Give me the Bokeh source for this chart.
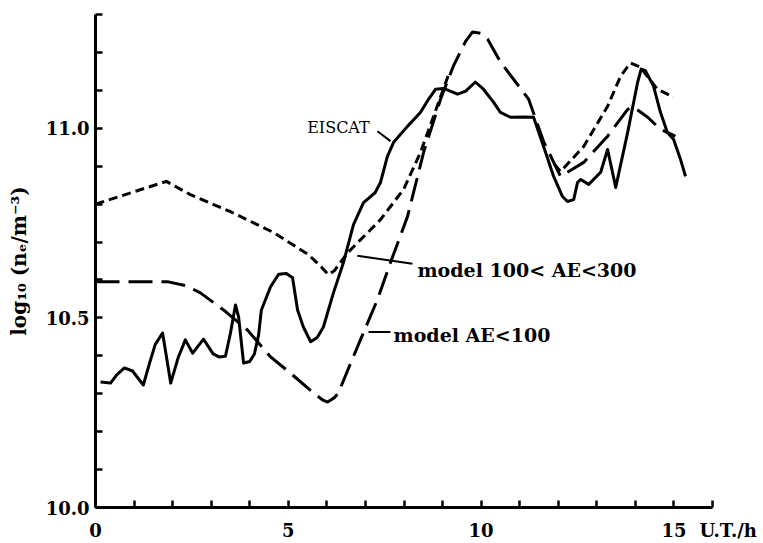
import numpy as np
from bokeh.plotting import figure
from bokeh.models import FixedTicker, PrintfTickFormatter, Label, Range1d
from bokeh.embed import file_html
from bokeh.resources import INLINE

# EISCAT measured electron density, log10(n_e / m^-3), against universal time (h)
eiscat_ut = [0.13, 0.39, 0.55, 0.75, 0.96, 1.24, 1.40, 1.55, 1.74, 1.95, 2.15, 2.33,
             2.52, 2.80, 3.05, 3.20, 3.37, 3.50, 3.63, 3.71, 3.84, 4.00, 4.12, 4.23,
             4.30, 4.54, 4.75, 4.95, 5.11, 5.24, 5.39, 5.58, 5.75, 5.91, 6.17, 6.43,
             6.69, 6.95, 7.25, 7.39, 7.57, 7.73, 8.09, 8.43, 8.64, 8.82, 9.02, 9.20,
             9.39, 9.60, 9.85, 10.06, 10.32, 10.50, 10.76, 11.10, 11.36, 11.62, 11.88,
             12.11, 12.24, 12.40, 12.50, 12.58, 12.79, 13.10, 13.28, 13.49, 13.80,
             14.06, 14.15, 14.26, 14.47, 14.65, 14.83, 14.99, 15.17, 15.30]
eiscat_ne = [10.331, 10.328, 10.350, 10.368, 10.360, 10.323, 10.380, 10.430, 10.460,
             10.328, 10.397, 10.442, 10.407, 10.444, 10.405, 10.397, 10.399, 10.460,
             10.534, 10.503, 10.381, 10.385, 10.405, 10.455, 10.520, 10.582, 10.615,
             10.617, 10.606, 10.521, 10.476, 10.437, 10.448, 10.476, 10.566, 10.646,
             10.746, 10.804, 10.830, 10.857, 10.926, 10.963, 11.005, 11.042, 11.077,
             11.103, 11.105, 11.098, 11.090, 11.098, 11.122, 11.103, 11.069, 11.042,
             11.029, 11.030, 11.029, 10.952, 10.873, 10.820, 10.807, 10.812, 10.857,
             10.865, 10.852, 10.884, 10.944, 10.844, 10.989, 11.122, 11.156, 11.152,
             11.111, 11.042, 10.989, 10.971, 10.918, 10.873]

# Model, 100 < AE < 300 (runs under the AE < 100 model around noon)
model_mid_ut = [0.0, 1.84, 2.10, 2.46, 3.50, 4.62, 5.52, 5.85, 6.04, 6.20, 6.54, 7.39,
                7.99, 8.43, 8.74, 9.02, 9.15, np.nan, 11.90, 12.06, 12.66, 13.28, 13.62,
                13.87, 14.13, 14.57, 14.99]
model_mid_ne = [10.800, 10.860, 10.845, 10.825, 10.780, 10.725, 10.667, 10.635, 10.614,
                10.625, 10.672, 10.759, 10.839, 10.937, 11.024, 11.103, 11.140, np.nan,
                10.905, 10.886, 10.952, 11.058, 11.138, 11.172, 11.161, 11.103, 11.082]

# Model, AE < 100
model_low_ut = [0.0, 1.89, 2.35, 2.72, 3.32, 3.94, 4.54, 5.06, 5.65, 5.90, 6.02, 6.20,
                6.30, 6.54, 6.87, 7.31, 7.65, 8.09, 8.51, 8.95, 9.28, 9.60, 9.78, 10.00,
                10.17, 10.50, 11.23, 11.62, 12.06, 12.66, 13.28, 13.80, 13.95, 14.32,
                14.65, 15.04]
model_low_ne = [10.595, 10.595, 10.585, 10.566, 10.521, 10.468, 10.397, 10.354, 10.302,
                10.283, 10.278, 10.290, 10.302, 10.362, 10.442, 10.548, 10.646, 10.767,
                10.937, 11.077, 11.164, 11.230, 11.254, 11.250, 11.235, 11.175, 11.077,
                10.965, 10.873, 10.910, 10.979, 11.050, 11.056, 11.029, 10.997, 10.979]

x_labelled = [0, 5, 10, 15, 16]
x_ticks = [1, 2, 3, 4, 6, 7, 8, 9, 11, 12, 13, 14]
x_unit = "U.T./h"
y_labelled = [10.0, 10.5, 11.0]
y_ticks = [10.1, 10.2, 10.3, 10.4, 10.6, 10.7, 10.8, 10.9, 11.1, 11.2, 11.3]

SERIF = "DejaVu Serif"

p = figure(width=763, height=543, output_backend="svg", toolbar_location=None,
           x_range=Range1d(0, 16), y_range=Range1d(10.0, 11.3),
           min_border_left=95, min_border_right=51, min_border_top=14,
           min_border_bottom=36)
p.outline_line_color = None
p.grid.visible = False
p.background_fill_color = "white"
p.border_fill_color = "white"

for ax in (p.xaxis[0], p.yaxis[0]):
    ax.axis_line_width = 3
    ax.axis_line_color = "black"
    ax.major_tick_in = 7
    ax.major_tick_out = 0
    ax.minor_tick_in = 7
    ax.minor_tick_out = 0
    ax.major_tick_line_width = 2.5
    ax.minor_tick_line_width = 2.5
    ax.major_tick_line_color = "black"
    ax.minor_tick_line_color = "black"
    ax.major_label_text_font = SERIF
    ax.major_label_text_font_style = "bold"
    ax.major_label_text_font_size = "18px"
    ax.major_label_text_color = "black"

p.xaxis.ticker = FixedTicker(ticks=x_labelled, minor_ticks=x_ticks)
p.xaxis.formatter = PrintfTickFormatter(format="%d")
# the last tick carries the unit, pushed right of "15" by non-breaking spaces
p.xaxis.major_label_overrides = {16: "\u00a0" * 5 + x_unit}
p.xaxis.major_label_standoff = 12

p.yaxis.ticker = FixedTicker(ticks=y_labelled, minor_ticks=y_ticks)
p.yaxis.formatter = PrintfTickFormatter(format="%.1f")
p.yaxis.major_label_standoff = 6
p.yaxis.axis_label = "log\u2081\u2080 (n\u2091/m\u207b\u00b3)"
p.yaxis.axis_label_text_font = SERIF
p.yaxis.axis_label_text_font_style = "bold"
p.yaxis.axis_label_text_font_size = "20px"
p.yaxis.axis_label_text_color = "black"
p.yaxis.axis_label_standoff = 12

p.line(model_low_ut, model_low_ne, line_color="black", line_width=3, line_dash="24 9")
p.line(np.array(model_mid_ut, dtype=float), np.array(model_mid_ne, dtype=float),
       line_color="black", line_width=3, line_dash="9 5")
p.line(eiscat_ut, eiscat_ne, line_color="black", line_width=3, line_join="round")

# leader lines from the curve labels
p.segment(x0=[7.31, 6.79, 7.08], y0=[10.992, 10.664, 10.463],
          x1=[7.65, 8.22, 7.65], y1=[10.966, 10.643, 10.463],
          line_color="black", line_width=2)

p.add_layout(Label(x=6.30, y=11.003, text="EISCAT", text_align="center",
                   text_baseline="middle", text_font=SERIF, text_font_size="16px",
                   text_color="black"))
p.add_layout(Label(x=8.35, y=10.627, text="model 100< AE<300", text_align="left",
                   text_baseline="middle", text_font=SERIF, text_font_style="bold",
                   text_font_size="19px", text_color="black"))
p.add_layout(Label(x=7.73, y=10.455, text="model AE<100", text_align="left",
                   text_baseline="middle", text_font=SERIF, text_font_style="bold",
                   text_font_size="19px", text_color="black"))

open("out.html", "w").write(file_html(p, INLINE))
